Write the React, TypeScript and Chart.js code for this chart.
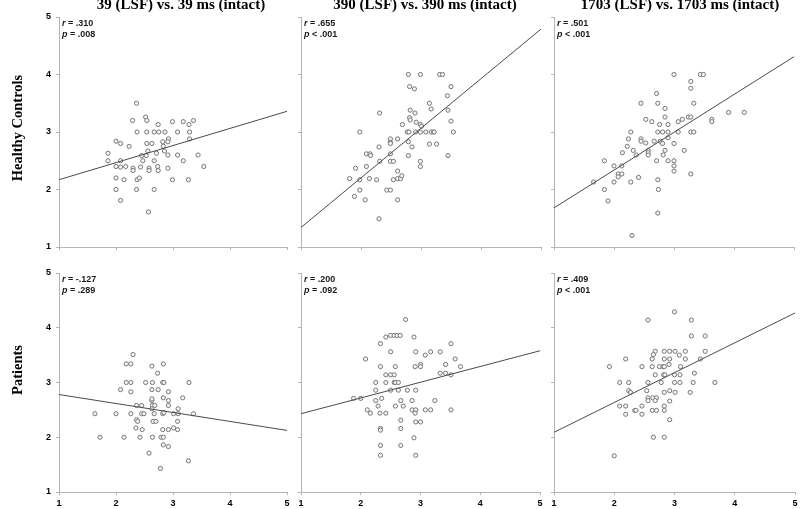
import React, { useEffect, useRef } from 'react';
import { Chart, registerables } from 'chart.js';
Chart.register(...registerables);

// ---------- data ----------
const columnTitles = ['39 (LSF) vs. 39 ms (intact)', '390 (LSF) vs. 390 ms (intact)', '1703 (LSF) vs. 1703 ms (intact)'];
const rowLabels = ['Healthy Controls', 'Patients'];
const axisMin = 1;
const axisMax = 5;

const hc39 = [
  [2.36, 3.5], [2.29, 3.2], [2.52, 3.26], [2.54, 3.2], [2.37, 3.0], [2.54, 3.0], [2.67, 3.0], [2.75, 3.0], [2.86, 3.0],
  [2.74, 3.13], [2.99, 3.18], [3.18, 3.18], [3.28, 3.13], [3.36, 3.2], [3.08, 3.0], [3.29, 3.0], [3.29, 2.88], [2.92, 2.88],
  [2.91, 2.83], [2.82, 2.83], [2.54, 2.8], [2.63, 2.8], [2.08, 2.8], [2.0, 2.84], [2.23, 2.75], [2.83, 2.75], [2.85, 2.67],
  [2.56, 2.67], [2.71, 2.63], [2.53, 2.59], [2.45, 2.59], [1.86, 2.63], [1.86, 2.5], [2.08, 2.5], [2.91, 2.6], [3.08, 2.6],
  [3.44, 2.6], [2.47, 2.5], [2.67, 2.5], [3.18, 2.5], [2.0, 2.4], [2.08, 2.39], [2.17, 2.4], [2.3, 2.37], [2.3, 2.33],
  [2.43, 2.39], [2.58, 2.37], [2.58, 2.33], [2.73, 2.4], [2.74, 2.33], [2.91, 2.37], [3.54, 2.4], [2.0, 2.2], [2.14, 2.17],
  [2.37, 2.17], [2.41, 2.2], [2.99, 2.17], [3.27, 2.17], [2.0, 2.0], [2.36, 2.0], [2.67, 2.0], [2.08, 1.81], [2.57, 1.61],
];

const hc390 = [
  [2.79, 4.0], [2.99, 4.0], [3.31, 4.0], [3.36, 4.0], [2.81, 3.79], [2.89, 3.75], [3.5, 3.79], [3.44, 3.63], [3.14, 3.5],
  [2.31, 3.33], [2.82, 3.38], [2.9, 3.33], [3.17, 3.4], [3.45, 3.38], [2.81, 3.25], [2.82, 3.21], [2.92, 3.17], [2.69, 3.13],
  [2.99, 3.13], [3.01, 3.1], [3.5, 3.19], [1.98, 3.0], [2.77, 3.0], [2.8, 3.0], [2.91, 3.0], [2.99, 3.0], [3.08, 3.0],
  [3.17, 3.0], [3.21, 3.0], [3.22, 3.0], [3.54, 3.0], [2.49, 2.88], [2.49, 2.82], [2.49, 2.8], [2.61, 2.88], [2.79, 2.83],
  [2.85, 2.74], [3.14, 2.79], [3.26, 2.79], [2.3, 2.74], [2.09, 2.62], [2.15, 2.62], [2.16, 2.59], [2.49, 2.62], [2.79, 2.59],
  [3.45, 2.59], [2.31, 2.49], [2.49, 2.49], [2.54, 2.49], [2.99, 2.49], [2.99, 2.4], [1.91, 2.37], [2.09, 2.4], [2.61, 2.32],
  [1.81, 2.19], [1.98, 2.17], [2.14, 2.19], [2.26, 2.17], [2.54, 2.17], [2.61, 2.19], [2.66, 2.19], [2.68, 2.24], [1.98, 1.99],
  [2.43, 1.99], [2.49, 1.99], [1.89, 1.88], [2.07, 1.82], [2.61, 1.82], [2.3, 1.49],
];

const hc1703 = [
  [3.0, 4.0], [3.44, 4.0], [3.49, 4.0], [3.28, 3.88], [3.28, 3.76], [2.71, 3.67], [2.45, 3.5], [2.73, 3.5], [3.33, 3.5],
  [2.85, 3.41], [2.85, 3.26], [2.53, 3.22], [2.63, 3.18], [2.76, 3.13], [2.9, 3.13], [3.07, 3.18], [3.14, 3.22], [3.24, 3.26],
  [3.28, 3.26], [3.63, 3.22], [3.63, 3.18], [3.91, 3.34], [4.17, 3.34], [2.28, 3.0], [2.73, 3.0], [2.81, 3.0], [2.9, 3.0],
  [3.07, 3.0], [3.28, 3.0], [3.33, 3.0], [2.24, 2.88], [2.45, 2.88], [2.45, 2.84], [2.53, 2.81], [2.67, 2.84], [2.77, 2.84],
  [2.81, 2.8], [2.9, 2.9], [3.0, 2.8], [2.22, 2.75], [2.32, 2.68], [2.57, 2.68], [2.57, 2.64], [2.57, 2.6], [2.37, 2.6],
  [2.14, 2.64], [2.85, 2.68], [2.82, 2.6], [3.17, 2.68], [1.84, 2.5], [2.71, 2.5], [2.9, 2.5], [3.0, 2.5], [3.0, 2.41],
  [3.0, 2.32], [2.0, 2.41], [2.13, 2.41], [2.07, 2.27], [2.13, 2.27], [2.07, 2.22], [3.28, 2.27], [2.41, 2.21], [1.66, 2.13],
  [2.0, 2.13], [2.28, 2.13], [2.73, 2.17], [1.84, 2.0], [2.74, 2.0], [1.9, 1.8], [2.73, 1.59], [2.3, 1.2],
];

const pt39 = [
  [2.3, 3.51], [2.18, 3.34], [2.26, 3.34], [2.83, 3.34], [2.63, 3.3], [2.73, 3.17], [2.18, 3.0], [2.26, 3.0], [2.52, 3.0],
  [2.64, 3.0], [2.82, 3.0], [2.84, 3.0], [3.28, 3.0], [2.08, 2.87], [2.63, 2.87], [2.74, 2.87], [2.26, 2.83], [2.92, 2.83],
  [2.83, 2.72], [3.17, 2.72], [2.63, 2.67], [2.92, 2.67], [2.63, 2.7], [2.36, 2.58], [2.45, 2.58], [2.64, 2.58], [2.68, 2.58],
  [2.92, 2.58], [2.63, 2.52], [3.09, 2.52], [1.63, 2.43], [2.0, 2.43], [2.26, 2.43], [2.45, 2.43], [2.49, 2.43], [2.67, 2.43],
  [2.82, 2.43], [2.84, 2.45], [3.01, 2.43], [3.09, 2.43], [3.36, 2.43], [2.36, 2.32], [2.38, 2.29], [2.65, 2.29], [2.7, 2.29],
  [3.08, 2.29], [2.35, 2.17], [2.46, 2.14], [2.82, 2.14], [2.92, 2.14], [3.01, 2.17], [3.08, 2.14], [1.72, 2.0], [2.14, 2.0],
  [2.42, 2.0], [2.64, 2.0], [2.79, 2.0], [2.83, 2.0], [2.83, 1.86], [2.92, 1.83], [2.58, 1.71], [3.27, 1.57], [2.78, 1.43],
];

const pt390 = [
  [2.75, 4.15], [2.42, 3.83], [2.5, 3.86], [2.56, 3.86], [2.61, 3.86], [2.66, 3.86], [2.89, 3.83], [2.33, 3.71], [3.51, 3.71],
  [2.5, 3.56], [2.92, 3.56], [3.17, 3.56], [3.33, 3.56], [3.08, 3.5], [2.08, 3.43], [3.58, 3.43], [2.33, 3.29], [2.58, 3.29],
  [2.91, 3.29], [3.0, 3.33], [3.0, 3.29], [3.42, 3.33], [3.67, 3.29], [2.42, 3.14], [2.5, 3.14], [2.56, 3.14], [3.33, 3.17],
  [3.42, 3.17], [3.51, 3.14], [2.25, 3.0], [2.42, 3.0], [2.56, 3.0], [2.58, 3.0], [2.63, 3.0], [2.25, 2.86], [2.5, 2.86],
  [2.63, 2.86], [2.78, 2.86], [2.92, 2.86], [1.88, 2.71], [2.0, 2.71], [2.35, 2.71], [2.25, 2.67], [2.67, 2.67], [2.86, 2.67],
  [3.24, 2.67], [2.29, 2.57], [2.58, 2.57], [2.71, 2.57], [2.11, 2.5], [2.16, 2.44], [2.32, 2.44], [2.42, 2.44], [2.86, 2.5],
  [2.92, 2.5], [2.91, 2.44], [3.08, 2.5], [3.17, 2.5], [3.51, 2.5], [2.67, 2.31], [2.92, 2.28], [3.0, 2.28], [2.33, 2.16],
  [2.33, 2.13], [2.67, 2.16], [2.89, 1.99], [2.33, 1.85], [2.67, 1.85], [2.33, 1.67], [2.92, 1.67],
];

const pt1703 = [
  [3.0, 4.29], [2.56, 4.14], [3.28, 4.14], [3.28, 3.85], [3.51, 3.85], [2.68, 3.57], [2.83, 3.57], [2.92, 3.57], [3.01, 3.57],
  [3.18, 3.57], [3.51, 3.57], [2.65, 3.51], [3.08, 3.5], [2.19, 3.43], [2.63, 3.43], [2.83, 3.43], [2.92, 3.43], [3.18, 3.43],
  [3.43, 3.43], [2.91, 3.33], [1.92, 3.29], [2.46, 3.29], [2.63, 3.29], [2.75, 3.29], [2.81, 3.29], [2.83, 3.29], [3.1, 3.29],
  [2.68, 3.14], [2.82, 3.14], [2.84, 3.14], [3.0, 3.14], [3.09, 3.14], [3.33, 3.17], [2.09, 3.0], [2.24, 3.0], [2.56, 3.0],
  [2.78, 3.0], [3.0, 3.0], [3.09, 3.0], [3.31, 3.0], [3.67, 3.0], [2.24, 2.85], [2.27, 2.82], [2.54, 2.85], [2.83, 2.82],
  [2.92, 2.85], [3.01, 2.82], [3.26, 2.82], [2.56, 2.72], [2.56, 2.67], [2.64, 2.72], [2.7, 2.72], [2.68, 2.67], [2.92, 2.66],
  [2.09, 2.57], [2.19, 2.57], [2.46, 2.57], [2.83, 2.57], [2.34, 2.49], [2.36, 2.49], [2.19, 2.42], [2.46, 2.42], [2.63, 2.49],
  [2.7, 2.49], [2.83, 2.49], [2.92, 2.32], [2.65, 2.0], [2.83, 2.0], [2.0, 1.66],
];

const fitAtMin = [2.17, 1.34, 1.68, 2.78, 2.43, 2.09]; // y of fit line at x = 1
const fitAtMax = [3.36, 4.79, 4.31, 2.125, 3.58, 4.27]; // y of fit line at x = 5
const rValues = ['.310', '.655', '.501', '-.127', '.200', '.409'];
const pValues = ['= .008', '< .001', '< .001', '= .289', '= .092', '< .001'];

// ---------- layout ----------
const panelData = [hc39, hc390, hc1703, pt39, pt390, pt1703];
const plotBoxes = [
  { L: 59, T: 17, R: 287, B: 247 },
  { L: 301, T: 17, R: 541, B: 247 },
  { L: 554, T: 17, R: 794, B: 247 },
  { L: 59, T: 273, R: 287, B: 492 },
  { L: 301, T: 273, R: 540, B: 492 },
  { L: 554, T: 273, R: 795, B: 492 },
];
const YAXIS_W = 40;
const XAXIS_H = 25;
const PAD_T = 12;
const PAD_R = 12;
const AXIS_GREY = '#b4b4b4';
const TICK_FONT = { family: 'Arial, "Liberation Sans", sans-serif', size: 9, weight: 'bold' as const };

const statsPlugin = {
  id: 'statsText',
  afterDraw(chart: any, _args: any, opts: any) {
    const { ctx, chartArea } = chart;
    ctx.save();
    ctx.fillStyle = '#1a1a1a';
    ctx.textBaseline = 'middle';
    ctx.textAlign = 'left';
    const x = chartArea.left + 3;
    const lines = [
      ['r', ' = ' + opts.r],
      ['p', ' ' + opts.p],
    ];
    lines.forEach((ln, i) => {
      const y = chartArea.top + 7 + i * 10.5;
      ctx.font = 'italic bold 9px Arial, "Liberation Sans", sans-serif';
      ctx.fillText(ln[0], x, y);
      const w = ctx.measureText(ln[0]).width;
      ctx.font = 'bold 9px Arial, "Liberation Sans", sans-serif';
      ctx.fillText(ln[1], x + w, y);
    });
    ctx.restore();
  },
};

function Panel({ idx }: { idx: number }) {
  const ref = useRef<HTMLCanvasElement>(null);
  const box = plotBoxes[idx];
  const width = box.R - box.L + YAXIS_W + PAD_R;
  const height = box.B - box.T + PAD_T + XAXIS_H;
  const showY = idx % 3 === 0;
  const showX = idx >= 3;

  useEffect(() => {
    const pts = panelData[idx].map(([x, y]) => ({ x, y }));
    const chart = new Chart(ref.current as HTMLCanvasElement, {
      type: 'scatter',
      data: {
        datasets: [
          {
            type: 'line',
            data: [
              { x: axisMin, y: fitAtMin[idx] },
              { x: axisMax, y: fitAtMax[idx] },
            ],
            borderColor: '#4a4a4a',
            borderWidth: 1,
            pointRadius: 0,
            fill: false,
          } as any,
          {
            data: pts,
            pointRadius: 2.1,
            pointBorderWidth: 1,
            borderColor: '#767676',
            backgroundColor: '#f6f6f6',
          },
        ],
      },
      options: {
        animation: false,
        responsive: false,
        events: [],
        layout: { autoPadding: false, padding: { left: 0, top: PAD_T, right: PAD_R, bottom: 0 } } as any,
        plugins: {
          legend: { display: false },
          tooltip: { enabled: false },
          statsText: { r: rValues[idx], p: pValues[idx] },
        } as any,
        scales: {
          x: {
            type: 'linear',
            min: axisMin,
            max: axisMax,
            ticks: { stepSize: 1, display: showX, font: TICK_FONT, color: '#000', padding: 3 },
            grid: { drawOnChartArea: false, drawTicks: true, tickLength: 3, color: AXIS_GREY },
            border: { color: AXIS_GREY, width: 1 },
            afterFit: (s: any) => {
              s.height = XAXIS_H;
            },
          },
          y: {
            type: 'linear',
            min: axisMin,
            max: axisMax,
            ticks: { stepSize: 1, display: showY, font: TICK_FONT, color: '#000', padding: 5 },
            grid: { drawOnChartArea: false, drawTicks: true, tickLength: 3, color: AXIS_GREY },
            border: { color: AXIS_GREY, width: 1 },
            afterFit: (s: any) => {
              s.width = YAXIS_W;
            },
          },
        },
      },
      plugins: [statsPlugin],
    });
    return () => chart.destroy();
  }, [idx]);

  return (
    <canvas
      ref={ref}
      width={width}
      height={height}
      style={{ position: 'absolute', left: box.L - YAXIS_W, top: box.T - PAD_T, width, height }}
    />
  );
}

const titleCenters = [181, 425, 680];
const rowCenters = [128, 370];

export default function App() {
  return (
    <div
      style={{
        position: 'fixed',
        left: 0,
        top: 0,
        width: 800,
        height: 509,
        background: '#fff',
        overflow: 'hidden',
      }}
    >
      {[0, 1, 2, 3, 4, 5].map((i) => (
        <Panel key={i} idx={i} />
      ))}
      {columnTitles.map((t, i) => (
        <div
          key={t}
          style={{
            position: 'absolute',
            left: titleCenters[i] - 150,
            top: -3,
            width: 300,
            textAlign: 'center',
            fontFamily: '"Times New Roman", "Liberation Serif", serif',
            fontWeight: 'bold',
            fontSize: 15,
            lineHeight: '15px',
            color: '#000',
            whiteSpace: 'nowrap',
          }}
        >
          {t}
        </div>
      ))}
      {rowLabels.map((t, i) => (
        <div
          key={t}
          style={{
            position: 'absolute',
            left: 17,
            top: rowCenters[i],
            transform: 'translate(-50%, -50%) rotate(-90deg)',
            fontFamily: '"Times New Roman", "Liberation Serif", serif',
            fontWeight: 'bold',
            fontSize: 14.5,
            lineHeight: '16px',
            color: '#000',
            whiteSpace: 'nowrap',
          }}
        >
          {t}
        </div>
      ))}
    </div>
  );
}
